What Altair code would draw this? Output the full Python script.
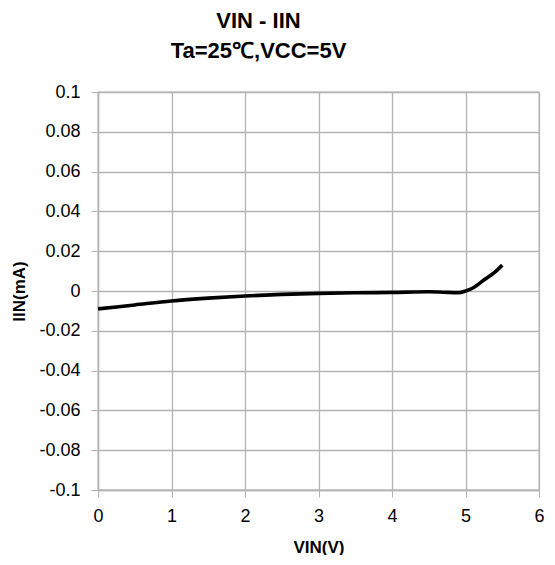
import altair as alt
import pandas as pd

vin = [0, 0.5, 1, 1.5, 2, 2.5, 3, 3.5, 4, 4.5, 4.7, 4.9, 5.0, 5.1, 5.25, 5.4, 5.5]
iin = [-0.009, -0.007, -0.005, -0.0036, -0.0025, -0.0017, -0.0012, -0.0009, -0.0007,
       -0.0004, -0.0006, -0.0008, 0.0, 0.0015, 0.0055, 0.0095, 0.013]

df = pd.DataFrame({"VIN": vin, "IIN": iin})

x_ticks = [0, 1, 2, 3, 4, 5, 6]
y_ticks = [-0.1, -0.08, -0.06, -0.04, -0.02, 0, 0.02, 0.04, 0.06, 0.08, 0.1]

font = "Liberation Sans"

chart = alt.Chart(df).mark_line(color="black", strokeWidth=3.6, interpolate="monotone").encode(
    x=alt.X("VIN:Q", scale=alt.Scale(domain=[0, 6], nice=False),
            axis=alt.Axis(values=x_ticks, title="VIN(V)", format="d", labelPadding=10,
                          titlePadding=14, labelFlush=False)),
    y=alt.Y("IIN:Q", scale=alt.Scale(domain=[-0.1, 0.1], nice=False),
            axis=alt.Axis(values=y_ticks, title="IIN(mA)", labelPadding=11, titlePadding=10,
                          labelFlush=False,
                          labelExpr="replace(format(datum.value, ''), '\u2212', '-')")),
).properties(
    width=441,
    height=398,
    title=alt.Title(["VIN - IIN", "Ta=25℃,VCC=5V"], font=font, fontSize=22, fontWeight="bold",
                    color="black", lineHeight=30, anchor="middle", dx=-60, offset=20),
    autosize=alt.AutoSizeParams(type="none"),
    padding={"left": 90, "top": 84, "right": 8, "bottom": 65},
).configure_axis(
    labelFont=font, labelFontSize=18, labelColor="black",
    titleFont=font, titleFontSize=17, titleFontWeight="bold", titleColor="black",
    gridColor="#b3b3b3", gridWidth=1.3, domainColor="#b3b3b3", domainWidth=1.3,
    tickColor="#b3b3b3", tickSize=7,
).configure_view(stroke="#b3b3b3", strokeWidth=1.3)

chart.save("out.html", embed_options={"renderer": "svg", "actions": False})
